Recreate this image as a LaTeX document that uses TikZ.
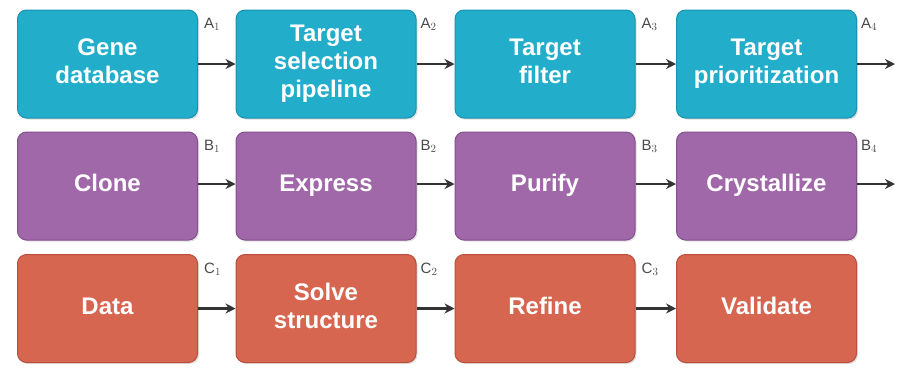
\documentclass[tikz,border=0pt]{standalone}
\usepackage{fontspec}
\setmainfont{Liberation Sans}
\usetikzlibrary{shadows,arrows.meta}
\definecolor{tealf}{HTML}{22ADCA}
\definecolor{teald}{HTML}{1C93AE}
\definecolor{purpf}{HTML}{A068A8}
\definecolor{purpd}{HTML}{84508E}
\definecolor{redf}{HTML}{D66650}
\definecolor{redd}{HTML}{B84E3B}
\definecolor{arr}{HTML}{333333}
\definecolor{lab}{HTML}{4A4A4A}
\tikzset{
  x=1pt,y=1pt,
  boxbase/.style={rounded corners=9pt, minimum width=180pt, minimum height=108pt,
    inner sep=2pt, align=center, text=white, font=\fontsize{24}{28}\selectfont\bfseries,
    line width=1pt, drop shadow={opacity=0.25, shadow xshift=1.5pt, shadow yshift=-1.5pt}},
  tealbox/.style={boxbase, fill=tealf, draw=teald},
  purpbox/.style={boxbase, fill=purpf, draw=purpd},
  redbox/.style={boxbase, fill=redf, draw=redd},
  flow/.style={draw=arr, line width=2.4pt, -{Stealth[length=10pt,width=10pt]}},
  steplabel/.style={text=lab, font=\fontsize{15}{18}\selectfont, inner sep=0pt, anchor=west}
}
\begin{document}
\begin{tikzpicture}
\useasboundingbox (0,0) rectangle (898,-368);
% row 1
\node[tealbox] (a1) at (107.5,-64) {\strut Gene\\\strut database};
\node[tealbox] (a2) at (326,-64) {\strut Target\\\strut selection\\\strut pipeline};
\node[tealbox] (a3) at (545,-64) {\strut Target\\\strut filter};
\node[tealbox] (a4) at (766.5,-64) {\strut Target\\\strut prioritization};
% row 2
\node[purpbox] (b1) at (107.5,-186) {\strut Clone};
\node[purpbox] (b2) at (326,-186) {\strut Express};
\node[purpbox] (b3) at (545,-186) {\strut Purify};
\node[purpbox] (b4) at (766.5,-186) {\strut Crystallize};
% row 3
\node[redbox] (c1) at (107.5,-308.5) {\strut Data};
\node[redbox] (c2) at (326,-308.5) {\strut Solve\\\strut structure};
\node[redbox] (c3) at (545,-308.5) {\strut Refine};
\node[redbox] (c4) at (766.5,-308.5) {\strut Validate};
% free ends
\coordinate (aout) at (895,-64);
\coordinate (bout) at (895,-184);
% arrows
\draw[flow] (a1.east) -- (a2.west);
\draw[flow] (a2.east) -- (a3.west);
\draw[flow] (a3.east) -- (a4.west);
\draw[flow] (a4.east) -- (aout);
\draw[flow] ([yshift=2pt]b1.east) -- ([yshift=2pt]b2.west);
\draw[flow] ([yshift=2pt]b2.east) -- ([yshift=2pt]b3.west);
\draw[flow] ([yshift=2pt]b3.east) -- ([yshift=2pt]b4.west);
\draw[flow] ([yshift=2pt]b4.east) -- (bout);
\draw[flow] (c1.east) -- (c2.west);
\draw[flow] (c2.east) -- (c3.west);
\draw[flow] (c3.east) -- (c4.west);
% labels
\node[steplabel] (la1) at ([xshift=6pt,yshift=-15pt]a1.north east) {A$_1$};
\node[steplabel] (la2) at ([xshift=4pt,yshift=-15pt]a2.north east) {A$_2$};
\node[steplabel] (la3) at ([xshift=6pt,yshift=-15pt]a3.north east) {A$_3$};
\node[steplabel] (la4) at ([xshift=4pt,yshift=-15pt]a4.north east) {A$_4$};
\node[steplabel] (lb1) at ([xshift=6pt,yshift=-15pt]b1.north east) {B$_1$};
\node[steplabel] (lb2) at ([xshift=4pt,yshift=-15pt]b2.north east) {B$_2$};
\node[steplabel] (lb3) at ([xshift=6pt,yshift=-15pt]b3.north east) {B$_3$};
\node[steplabel] (lb4) at ([xshift=4pt,yshift=-15pt]b4.north east) {B$_4$};
\node[steplabel] (lc1) at ([xshift=6pt,yshift=-15pt]c1.north east) {C$_1$};
\node[steplabel] (lc2) at ([xshift=4pt,yshift=-15pt]c2.north east) {C$_2$};
\node[steplabel] (lc3) at ([xshift=6pt,yshift=-15pt]c3.north east) {C$_3$};
\end{tikzpicture}
\end{document}
